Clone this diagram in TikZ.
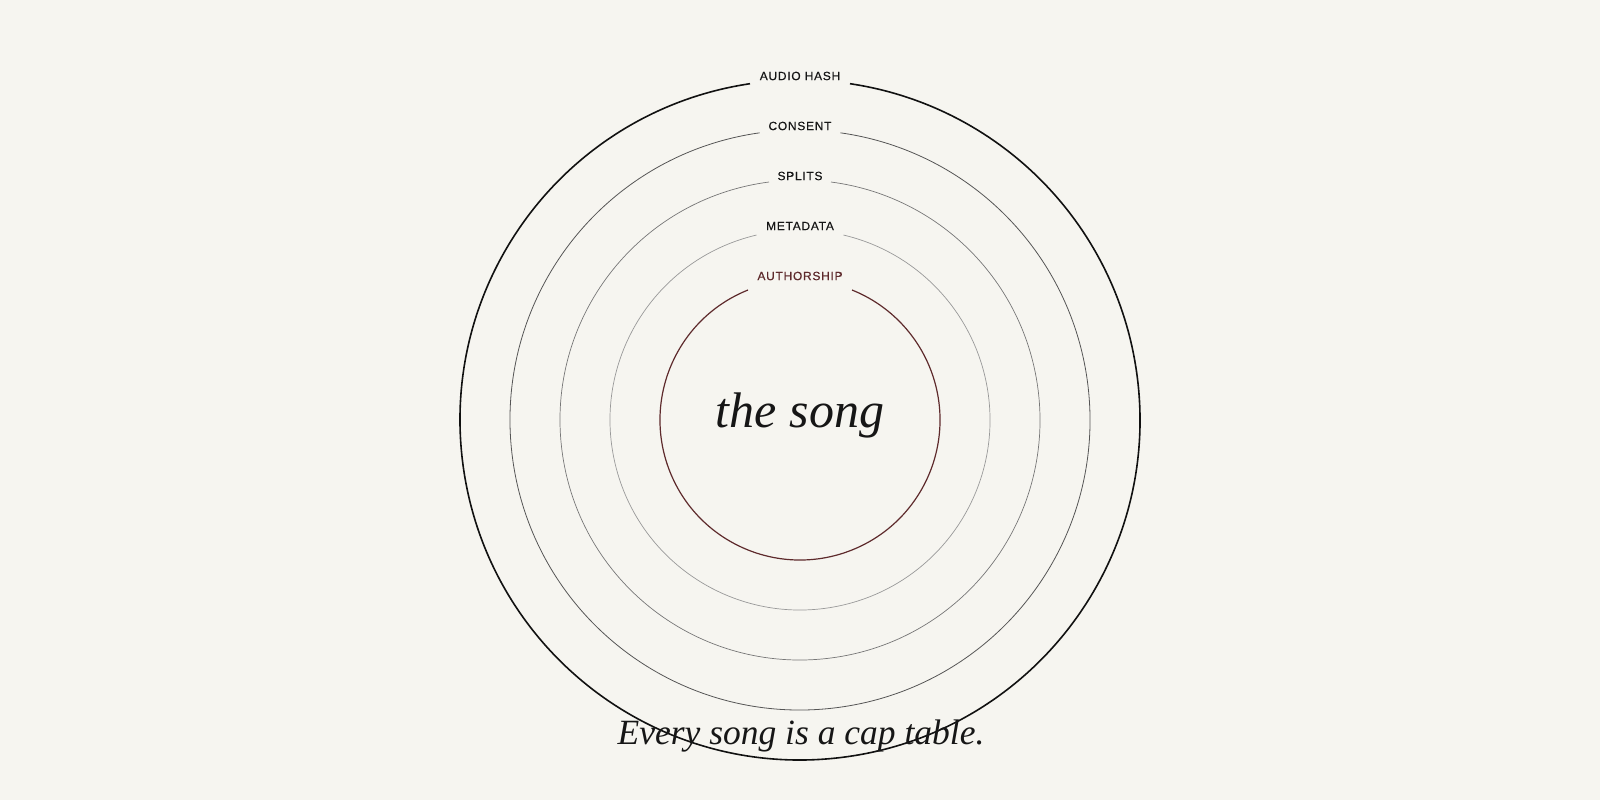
\documentclass[tikz,border=0pt]{standalone}
\usepackage{fontspec}
\setmainfont{Liberation Serif}
\newfontfamily\labelfont[LetterSpace=6,FakeBold=0.4]{Liberation Sans}
\definecolor{bg}{HTML}{F6F5F0}
\definecolor{ink}{HTML}{161616}
\definecolor{maroon}{HTML}{5E2A2C}
\definecolor{ringA}{HTML}{111111}
\definecolor{ringB}{HTML}{555555}
\definecolor{ringC}{HTML}{777777}
\definecolor{ringD}{HTML}{999999}
\tikzset{
  ringlabel/.style={font=\labelfont\fontsize{12}{14}\selectfont, text=ink, inner sep=0pt},
  serifline/.style={anchor=base, text=ink, inner sep=0pt},
}
\usetikzlibrary{calc}
\newcommand{\gapring}[4]{% radius, halfgap, color, width
  \pgfmathsetmacro{\ga}{asin(#2/#1)}
  \draw[draw=#3, line width=#4] ($(c)+(90+\ga:#1)$) arc[start angle=90+\ga, end angle=450-\ga, radius=#1];
}
\begin{document}
\begin{tikzpicture}[x=1pt,y=1pt]
\fill[bg] (0,0) rectangle (1600,800);
\useasboundingbox (0,0) rectangle (1600,800);
\coordinate (c) at (800,380);
\gapring{340}{50}{ringA}{1.6pt}
\gapring{290}{40.5}{ringB}{0.8pt}
\gapring{240}{31}{ringC}{0.7pt}
\gapring{190}{43.5}{ringD}{0.7pt}
\gapring{140}{52}{maroon}{1.2pt}
\node[ringlabel] (audio) at (800,724) {AUDIO HASH};
\node[ringlabel] (consent) at (800,674) {CONSENT};
\node[ringlabel] (splits) at (800,624) {SPLITS};
\node[ringlabel] (meta) at (800,574) {METADATA};
\node[ringlabel, text=maroon] (auth) at (800,524) {AUTHORSHIP};
\node[serifline, font=\itshape\fontsize{50}{56}\selectfont] (song) at (800,372) {the song};
\node[serifline, font=\itshape\fontsize{35.5}{40}\selectfont] (tag) at (801,55) {Every song is a cap table.};
\end{tikzpicture}
\end{document}
